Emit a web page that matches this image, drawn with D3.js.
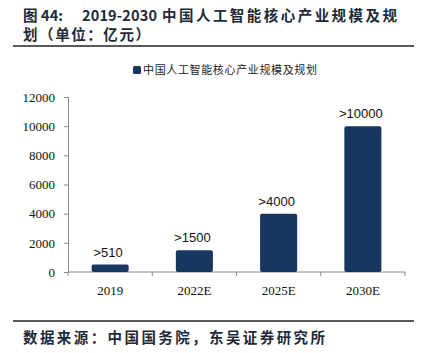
<!DOCTYPE html>
<html><head><meta charset="utf-8">
<script src="https://cdn.jsdelivr.net/npm/d3@7"></script>
<style>body{margin:0;background:#fff}</style>
</head><body>
<svg id="c" width="424" height="353"></svg>
<script>
const categories = ["2019", "2022E", "2025E", "2030E"];
const values = [510, 1500, 4000, 10000];
const valueLabels = [">510", ">1500", ">4000", ">10000"];
const yTicks = [0, 2000, 4000, 6000, 8000, 10000, 12000];
const seriesName = "中国人工智能核心产业规模及规划";

const svg = d3.select("#c");
const cjk = "'Noto Sans CJK SC', sans-serif";
const barColor = "#17375e";
const titleColor = "#1e2a38";

function put(txt, xPos, yPos, len, size, bold, family) {
  return svg.append("text").attr("x", xPos).attr("y", yPos).attr("font-family", family || cjk)
    .attr("font-weight", bold ? "bold" : "normal").attr("font-size", size).attr("fill", titleColor)
    .attr("textLength", len).attr("lengthAdjust", "spacing").text(txt);
}

// Title
put("图 44:", 23, 21, 40, 14.5, true);
put("2019-2030", 82, 21, 75, 14.5, true);
put("中国人工智能核心产业规模及规", 162, 21, 235, 14.5, true);
put("划（单位：亿元）", 23, 40, 127, 14.5, true);
svg.append("line").attr("x1", 13).attr("x2", 414).attr("y1", 46).attr("y2", 46)
  .attr("stroke", "#222").attr("stroke-width", 1.5);

// Legend
svg.append("rect").attr("x", 133).attr("y", 66).attr("width", 8).attr("height", 8).attr("rx", 1.5).attr("fill", barColor);
svg.append("text").attr("x", 143).attr("y", 74).attr("font-family", cjk).attr("font-size", 11).attr("fill", "#222")
  .attr("textLength", 174).attr("lengthAdjust", "spacing").text(seriesName);

const x = d3.scaleBand().domain(categories).range([68, 405]).paddingInner(0.56).paddingOuter(0.28);
const y = d3.scaleLinear().domain([0, 12000]).range([272, 97]);

const yAxis = d3.axisLeft(y).tickValues(yTicks).tickSize(4).tickPadding(9).tickFormat(d3.format("d"));
const gy = svg.append("g").attr("transform", "translate(68,0)").call(yAxis);
gy.select(".domain").attr("stroke", "#888");
gy.selectAll(".tick line").attr("stroke", "#888");
gy.selectAll("text").attr("font-family", "'Liberation Serif', serif").attr("font-size", 13).attr("fill", "#111");

const xAxisScale = d3.scalePoint().domain(d3.range(categories.length + 1)).range([68, 405]);
const gx = svg.append("g").attr("transform", "translate(0,272)");
gx.append("line").attr("x1", 68).attr("x2", 405).attr("stroke", "#888");
gx.selectAll("line.tk").data(d3.range(categories.length + 1)).join("line").attr("class", "tk")
  .attr("x1", d => xAxisScale(d)).attr("x2", d => xAxisScale(d)).attr("y1", 0).attr("y2", 4).attr("stroke", "#888");
gx.selectAll("text").data(categories).join("text")
  .attr("x", d => x(d) + x.bandwidth() / 2).attr("y", 23).attr("text-anchor", "middle")
  .attr("font-family", "'Liberation Serif', serif").attr("font-size", 13).attr("fill", "#111").text(d => d);

svg.selectAll("rect.bar").data(values).join("rect").attr("class", "bar")
  .attr("x", (d, i) => x(categories[i])).attr("width", x.bandwidth())
  .attr("y", d => y(d)).attr("height", d => y(0) - y(d)).attr("rx", 2).attr("fill", barColor);

svg.selectAll("text.lbl").data(values).join("text").attr("class", "lbl")
  .attr("x", (d, i) => x(categories[i]) + x.bandwidth() / 2 - 2).attr("y", d => y(d) - 8)
  .attr("text-anchor", "middle").attr("font-family", "'Liberation Sans', Arial, sans-serif")
  .attr("font-size", 13).attr("fill", "#111").text((d, i) => valueLabels[i]);

// Source
svg.append("line").attr("x1", 13).attr("x2", 414).attr("y1", 321).attr("y2", 321)
  .attr("stroke", "#222").attr("stroke-width", 1.5);
put("数据来源：中国国务院，东吴证券研究所", 23, 343, 302, 14.5, true);
</script>
</body></html>
